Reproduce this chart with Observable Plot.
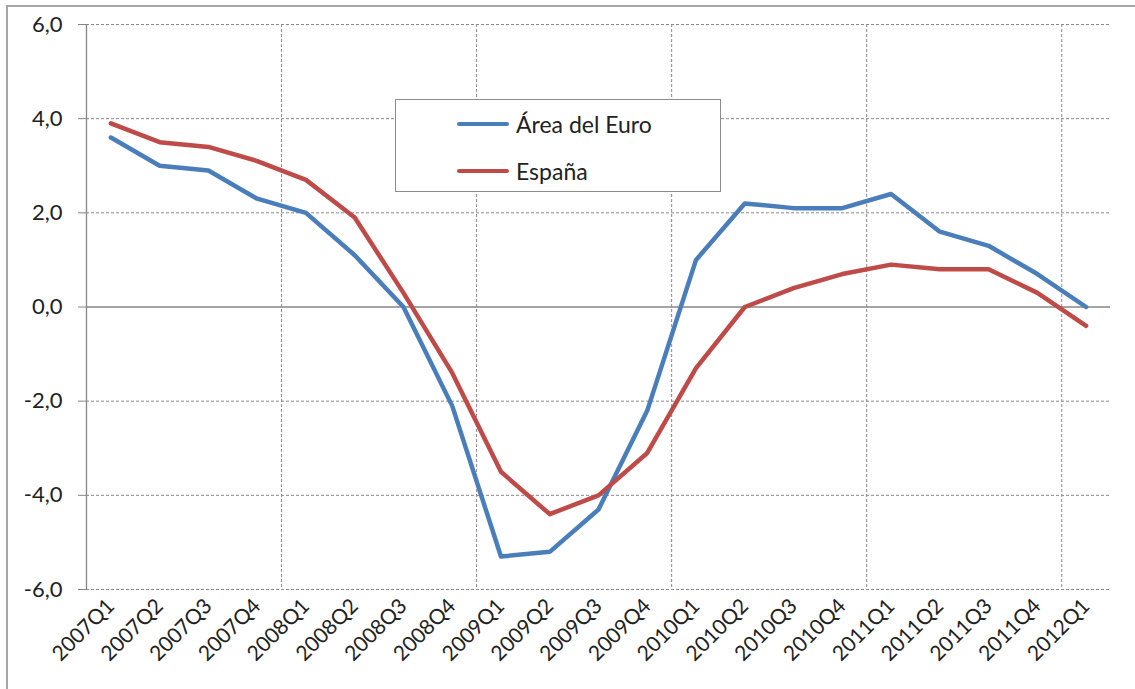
<!DOCTYPE html>
<html>
<head>
<meta charset="utf-8">
<script src="https://cdn.jsdelivr.net/npm/d3@7"></script>
<script src="https://cdn.jsdelivr.net/npm/@observablehq/plot@0.6"></script>
<style>
  html, body { margin: 0; padding: 0; background: #fff; }
  #wrap { position: relative; width: 1135px; height: 689px; overflow: hidden; font-family: Lato, "Open Sans", sans-serif; }
  #frame { position: absolute; left: 6px; top: 5px; width: 1300px; height: 900px; border-left: 2px solid #a6a6a6; border-top: 2px solid #a6a6a6; pointer-events: none; }
  #legend { position: absolute; left: 395px; top: 99px; width: 326px; height: 93px; border: 1px solid #8c8c8c; background: #fff; box-sizing: border-box; }
  .item { position: absolute; left: 61px; height: 28px; display: flex; align-items: center; font-size: 23px; color: #222; }
  .sw { width: 52px; height: 4.5px; margin-right: 7px; border-radius: 2px; }
</style>
</head>
<body>
<div id="wrap"><div id="chart"></div><div id="frame"></div><div id="legend"></div></div>
<script>
const quarters = ["2007Q1","2007Q2","2007Q3","2007Q4","2008Q1","2008Q2","2008Q3","2008Q4",
  "2009Q1","2009Q2","2009Q3","2009Q4","2010Q1","2010Q2","2010Q3","2010Q4",
  "2011Q1","2011Q2","2011Q3","2011Q4","2012Q1"];
const euro  = [3.6, 3.0, 2.9, 2.3, 2.0, 1.1, 0.0, -2.1, -5.3, -5.2, -4.3, -2.2, 1.0, 2.2, 2.1, 2.1, 2.4, 1.6, 1.3, 0.7, 0.0];
const spain = [3.9, 3.5, 3.4, 3.1, 2.7, 1.9, 0.3, -1.4, -3.5, -4.4, -4.0, -3.1, -1.3, 0.0, 0.4, 0.7, 0.9, 0.8, 0.8, 0.3, -0.4];
const seriesNames = ["Área del Euro", "España"];
const seriesColors = ["#4A7EBB", "#BE4B48"];
const yTicks = [-6, -4, -2, 0, 2, 4, 6];

const data = quarters.flatMap((q, i) => [
  {i, q, v: euro[i], s: seriesNames[0]},
  {i, q, v: spain[i], s: seriesNames[1]}
]);
// year boundaries (between Q4 and Q1)
const yearBounds = quarters.map((q, i) => (i > 0 && q.endsWith("Q1")) ? i - 0.5 : null).filter(d => d !== null);

const chart = Plot.plot({
  width: 1135,
  height: 689,
  marginLeft: 86,
  marginRight: 25,
  marginTop: 24,
  marginBottom: 100,
  style: {fontFamily: "Lato, 'Open Sans', sans-serif", color: "#222", background: "transparent"},
  x: {domain: [-0.5, quarters.length - 0.5]},
  y: {domain: [-6, 6]},
  color: {domain: seriesNames, range: seriesColors},
  marks: [
    Plot.gridY(yTicks.filter(d => d !== 0), {stroke: "#8a8a8a", strokeOpacity: 1, strokeDasharray: "3,2", strokeWidth: 1}),
    Plot.gridX(yearBounds, {stroke: "#8a8a8a", strokeOpacity: 1, strokeDasharray: "3,2", strokeWidth: 1}),
    Plot.ruleY([0], {stroke: "#868686", strokeWidth: 1.3}),
    Plot.ruleX([-0.5], {stroke: "#868686", strokeWidth: 1.3}),
    Plot.axisY({ticks: yTicks, tickFormat: d => d.toFixed(1).replace(".", ","), tickSize: 8, tickPadding: 16, fontSize: 22, stroke: "#868686", label: null}),
    Plot.axisX({ticks: d3.range(quarters.length), tickFormat: i => quarters[i], tickRotate: -45, tickSize: 0, tickPadding: 13, fontSize: 21, label: null}),
    Plot.line(data, {x: "i", y: "v", stroke: "s", strokeWidth: 4.5, strokeLinejoin: "round"})
  ]
});
document.getElementById("chart").appendChild(chart);

const legend = document.getElementById("legend");
seriesNames.forEach((name, k) => {
  const it = document.createElement("div");
  it.className = "item";
  it.style.top = (10 + k * 47) + "px";
  it.innerHTML = `<span class="sw" style="background:${seriesColors[k]}"></span><span>${name}</span>`;
  legend.appendChild(it);
});
</script>
</body>
</html>
